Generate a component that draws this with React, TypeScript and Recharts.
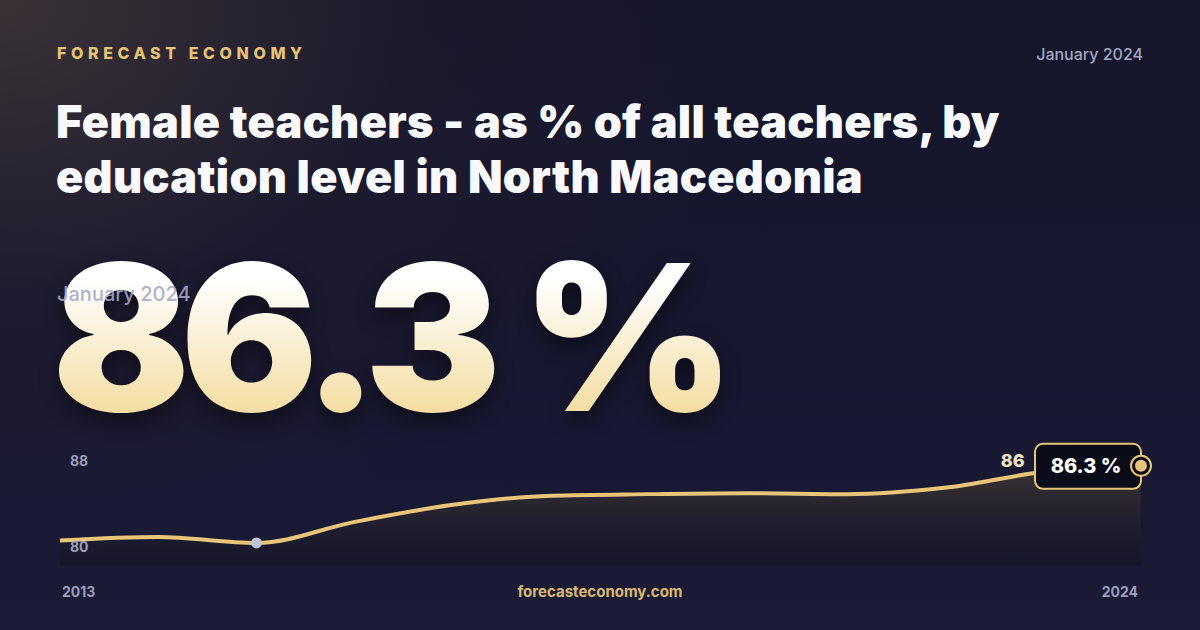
import React from "react";
import { AreaChart, Area, XAxis, YAxis } from "recharts";

const years = [2013, 2014, 2015, 2016, 2017, 2018, 2019, 2020, 2021, 2022, 2023, 2024];
const values = [81.56, 81.78, 81.4, 82.74, 83.82, 84.4, 84.5, 84.56, 84.5, 84.9, 85.9, 86.3];
const yTicks = [80, 88];
const xTicks = [2013, 2024];
const minIndex = 2;
const labelIndex = 10;

const data = years.map((y, i) => ({ year: y, value: values[i] }));

const GOLD = "#e8c578";

const YTick = (props: any) => {
  const { x, y, payload } = props;
  const top = payload.value === 88;
  return (
    <text x={x + 2} y={top ? y + 27 : y - 13} fill="#9a9db9" fontSize={14} fontWeight={700} fontFamily="Inter" textAnchor="start">
      {payload.value}
    </text>
  );
};

const XTick = (props: any) => {
  const { x, y, payload } = props;
  const first = payload.value === 2013;
  return (
    <text x={first ? x + 2 : x - 3} y={y + 24} fill="#9a9db9" fontSize={14} fontWeight={700} fontFamily="Inter" textAnchor={first ? "start" : "end"}>
      {payload.value}
    </text>
  );
};

const Dot = (props: any) => {
  const { cx, cy, index } = props;
  if (index === minIndex) {
    return <circle key={index} cx={cx} cy={cy} r={5.5} fill="#bfc3dc" />;
  }
  if (index === values.length - 1) {
    return (
      <g key={index}>
        <rect x={cx - 106} y={cy - 22} width={106} height={45} rx={8} ry={8} fill="#0b0c1a" stroke={GOLD} strokeWidth={2} />
        <text x={cx - 55} y={cy + 7} fill="#ffffff" fontSize={20} fontWeight={800} fontFamily="Inter" textAnchor="middle">
          {values[index].toFixed(1)} %
        </text>
        <circle cx={cx} cy={cy} r={10} fill="#0b0c1a" stroke={GOLD} strokeWidth={2} />
        <circle cx={cx} cy={cy} r={6} fill={GOLD} />
      </g>
    );
  }
  if (index === labelIndex) {
    return (
      <text key={index} x={cx - 30} y={cy - 5} fill="#f0e2c0" fontSize={18} fontWeight={800} fontFamily="Inter" textAnchor="middle">
        {Math.round(values[index])}
      </text>
    );
  }
  return <g key={index} />;
};

export default function App() {
  return (
    <div
      style={{
        position: "absolute",
        left: 0,
        top: 0,
        width: 1200,
        height: 630,
        overflow: "hidden",
        fontFamily: "Inter, sans-serif",
        background:
          "radial-gradient(ellipse 750px 560px at 0% 0%, rgba(110,90,70,0.42), rgba(60,50,50,0.15) 55%, rgba(0,0,0,0) 100%), linear-gradient(180deg, #15152b 0%, #171730 60%, #1b1b36 100%)",
      }}
    >
      <div style={{ position: "absolute", left: 57, top: 43, fontSize: 16, fontWeight: 800, letterSpacing: 4.6, color: "#e6c274" }}>
        FORECAST ECONOMY
      </div>
      <div style={{ position: "absolute", right: 57, top: 44, fontSize: 16, fontWeight: 500, color: "#a4a7c4" }}>January 2024</div>
      <div
        style={{
          position: "absolute",
          left: 56,
          top: 94,
          width: 1100,
          fontSize: 45,
          lineHeight: "55px",
          fontWeight: 900,
          letterSpacing: 0.3,
          color: "#f8f9fd",
          whiteSpace: "nowrap",
        }}
      >
        Female teachers - as % of all teachers, by
        <br />
        education level in North Macedonia
      </div>
      <div
        style={{
          position: "absolute",
          left: 52,
          top: 222,
          fontSize: 204,
          lineHeight: "230px",
          fontWeight: 900,
          letterSpacing: -10,
          whiteSpace: "nowrap",
          background: "linear-gradient(180deg, #ffffff 25%, #f3dc9e 85%)",
          WebkitBackgroundClip: "text",
          backgroundClip: "text",
          color: "transparent",
          filter: "drop-shadow(0px 8px 10px rgba(0,0,0,0.45))",
        }}
      >
        86.3 %
      </div>
      <div style={{ position: "absolute", left: 57, top: 282, fontSize: 20, fontWeight: 500, color: "rgba(165,168,200,0.9)" }}>
        January 2024
      </div>
      <div style={{ position: "absolute", left: 0, top: 582, width: 1200, textAlign: "center", fontSize: 15, fontWeight: 700, color: "#d9b96e" }}>
        forecasteconomy.com
      </div>
      <div style={{ position: "absolute", left: 0, top: 0 }}>
        <AreaChart width={1200} height={630} data={data} margin={{ top: 439, left: 60, right: 59, bottom: 35 }}>
          <defs>
            <linearGradient id="fillGrad" x1="0" y1="0" x2="0" y2="1">
              <stop offset="0%" stopColor="#6a5838" stopOpacity={0.75} />
              <stop offset="100%" stopColor="#0a0a10" stopOpacity={0.35} />
            </linearGradient>
          </defs>
          <XAxis
            dataKey="year"
            type="number"
            domain={[2013, 2024]}
            ticks={xTicks}
            axisLine={false}
            tickLine={false}
            height={30}
            tick={<XTick />}
            interval={0}
          />
          <YAxis domain={[80, 88]} ticks={yTicks} axisLine={false} tickLine={false} mirror tick={<YTick />} allowDataOverflow />
          <Area
            type="monotone"
            dataKey="value"
            stroke={GOLD}
            strokeWidth={4}
            fill="url(#fillGrad)"
            baseValue={80}
            dot={<Dot />}
            activeDot={false}
            isAnimationActive={false}
          />
        </AreaChart>
      </div>
    </div>
  );
}
